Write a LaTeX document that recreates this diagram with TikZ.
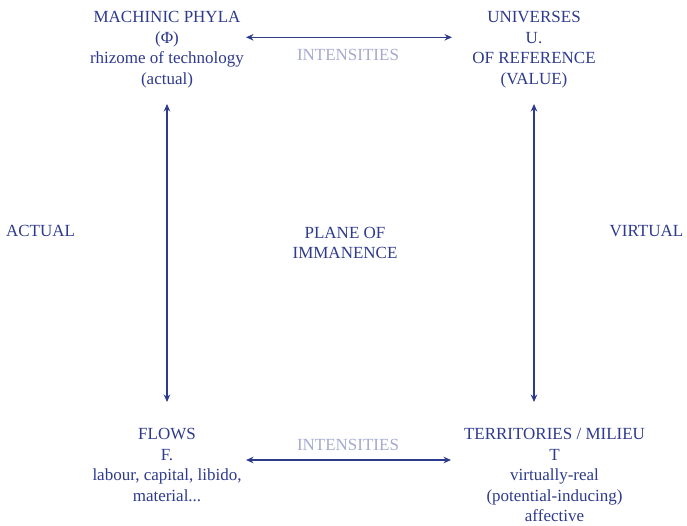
\documentclass[tikz,border=0pt]{standalone}
\usepackage{fontspec}
\setmainfont{Liberation Serif}
\usetikzlibrary{arrows.meta}
\definecolor{ink}{HTML}{2E3A8C}
\definecolor{faint}{HTML}{A4AAD0}
\begin{document}
\begin{tikzpicture}[x=1pt,y=-1pt,
  lbl/.style={inner sep=0pt, align=center, text=ink, font=\fontsize{17}{20.5}\selectfont},
  soft/.style={lbl, text=faint},
  link/.style={draw=ink, line width=1.4pt, {Stealth[length=7.5pt,width=6.5pt]}-{Stealth[length=7.5pt,width=6.5pt]}}]
\path[use as bounding box] (0,0) rectangle (687,525);
% corner labels
\node[lbl,anchor=north] (phyla) at (167,8.4) {\strut MACHINIC PHYLA\\(Φ)\\rhizome of technology\\(actual)};
\node[lbl,anchor=north] (universes) at (534,8.4) {\strut UNIVERSES\\U.\\OF REFERENCE\\(VALUE)};
\node[lbl,anchor=north] (flows) at (167,425.2) {\strut FLOWS\\F.\\labour, capital, libido,\\material...};
\node[lbl,anchor=north] (territories) at (554.5,425.2) {\strut TERRITORIES / MILIEU\\T\\virtually-real\\(potential-inducing)\\affective};
% middle labels
\node[lbl,anchor=base] (actual) at (40.5,236.7) {ACTUAL};
\node[lbl,anchor=base] (virtual) at (646.5,236.7) {VIRTUAL};
\node[lbl,anchor=north] (plane) at (345,223.7) {\strut PLANE OF\\IMMANENCE};
\node[soft,anchor=base] (inttop) at (348,60) {INTENSITIES};
\node[soft,anchor=base] (intbot) at (348,450.7) {INTENSITIES};
% arrow end points
\coordinate (tl) at (246,37.3);
\coordinate (tr) at (452,37.3);
\coordinate (bl) at (246,460);
\coordinate (br) at (451,460);
\coordinate (lt) at (167,104);
\coordinate (lb) at (167,402);
\coordinate (rt) at (534,104);
\coordinate (rb) at (534,402);
\draw[link] (tl) -- (tr);
\draw[link] (bl) -- (br);
\draw[link] (lt) -- (lb);
\draw[link] (rt) -- (rb);
\end{tikzpicture}
\end{document}
